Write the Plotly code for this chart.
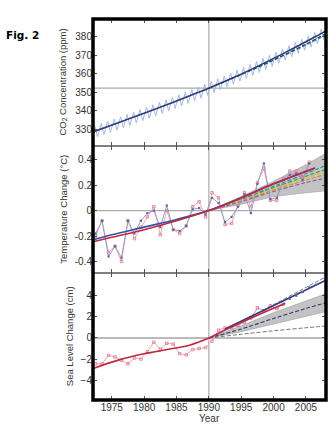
import plotly.graph_objects as go
from plotly.subplots import make_subplots

# ---------------- CO2 (ppm) ----------------
co2_years = list(range(1972, 2008))
co2_peak = [331.9, 333.1, 334.3, 335.5, 336.7, 338.0, 339.3, 340.6, 341.9, 343.2,
            344.5, 345.9, 347.2, 348.6, 350.0, 351.4, 352.8, 354.3, 355.8, 357.3,
            358.8, 360.3, 361.9, 363.5, 365.1, 366.7, 368.3, 370.0, 371.7, 373.4,
            375.1, 376.9, 378.7, 380.5, 382.3, 384.2]
co2_trough = [325.9, 327.1, 328.3, 329.5, 330.7, 332.0, 333.3, 334.6, 335.9, 337.2,
              338.5, 339.9, 341.2, 342.6, 344.0, 345.4, 346.8, 348.3, 349.8, 351.3,
              352.8, 354.3, 355.9, 357.5, 359.1, 360.7, 362.3, 364.0, 365.7, 367.4,
              369.1, 370.9, 372.7, 374.5, 376.3, 378.2]
co2_peak_month = 5
co2_trough_month = 10
co2_trend_years = [1972.1, 1976, 1980, 1984, 1988, 1990, 1994, 1998, 2002, 2006, 2008.1]
co2_trend = [328.5, 333.5, 338.6, 343.9, 349.4, 352.2, 358.2, 364.8, 371.8, 379.2, 383.2]
proj_years = [1990, 1995, 2000, 2005, 2008.1]
co2_proj_a = [352.2, 359.6, 367.5, 376.0, 381.8]
co2_proj_b = [352.2, 359.5, 367.2, 375.5, 381.0]

# ---------------- Temperature change (degC) ----------------
temp_years = list(range(1972, 2006))
temp_giss = [-0.18, -0.08, -0.36, -0.28, -0.37, -0.08, -0.18, -0.08, -0.02, 0.00,
             -0.13, 0.04, -0.15, -0.16, -0.12, 0.01, 0.02, -0.03, 0.10, 0.06,
             -0.09, -0.05, 0.03, 0.13, -0.02, 0.21, 0.37, 0.09, 0.10, 0.24,
             0.28, 0.29, 0.24, 0.37]
temp_hadley = [-0.20, -0.08, -0.33, -0.28, -0.40, -0.08, -0.22, -0.13, -0.05, 0.03,
               -0.19, 0.00, -0.15, -0.18, -0.12, 0.03, 0.07, -0.05, 0.14, 0.10,
               -0.11, -0.10, 0.04, 0.14, 0.03, 0.22, 0.33, 0.08, 0.08, 0.25,
               0.31, 0.31, 0.26, 0.38]
temp_trend_years = [1972.1, 1975, 1980, 1985, 1990, 1995, 2000, 2006.4]
temp_trend_giss = [-0.23, -0.19, -0.13, -0.07, 0.0, 0.10, 0.21, 0.335]
temp_trend_hadley = [-0.245, -0.21, -0.15, -0.08, 0.0, 0.10, 0.21, 0.335]
temp_band_upper = [0, 0.11, 0.23, 0.36, 0.45]
temp_band_lower = [0, 0.05, 0.11, 0.14, 0.155]
temp_scenarios = {
    "#2a8fb0": [0, 0.09, 0.19, 0.29, 0.355],
    "#3aa040": [0, 0.085, 0.18, 0.27, 0.325],
    "#d8c820": [0, 0.08, 0.17, 0.255, 0.305],
    "#e08a30": [0, 0.075, 0.16, 0.24, 0.285],
    "#8a5aa8": [0, 0.07, 0.15, 0.22, 0.255],
}

# ---------------- Sea level change (cm) ----------------
tide_years = list(range(1972, 1993))
tide_level = [-2.45, -2.45, -1.65, -1.8, -2.1, -2.45, -1.9, -2.0, -1.3, -0.4,
              -1.05, -0.5, -0.58, -1.5, -1.6, -1.1, -1.0, -0.9, -0.3, 0.75, 0.95]
sat_years = list(range(1993, 2002))
sat_level = [1.0, 1.2, 1.5, 1.9, 2.85, 2.6, 3.05, 2.8, 3.2]
sat_recent_years = [2002, 2003, 2004, 2005, 2006]
sat_recent_level = [3.7, 4.0, 4.35, 4.8, 5.05]
sea_trend_years = [1972.1, 1976, 1980, 1984, 1987, 1990, 1993, 1996, 1999, 2001.8]
sea_trend = [-2.9, -2.1, -1.5, -1.05, -0.68, 0.0, 0.9, 1.75, 2.55, 3.3]
sat_trend_years = [1992.5, 2008.0]
sat_trend = [0.85, 5.45]
sea_upper_line = [0, 1.55, 3.15, 4.8, 5.8]
sea_band_upper = [0, 1.15, 2.4, 3.55, 4.2]
sea_band_lower = [0, 0.6, 1.35, 2.05, 2.5]
sea_center = [0, 0.85, 1.85, 2.8, 3.35]
sea_low_line = [0, 0.35, 0.68, 0.97, 1.13]

fig = make_subplots(rows=3, cols=1, shared_xaxes=True, vertical_spacing=0)

fine_dash = "4px,2px"

# CO2 seasonal cycle: alternate peak / trough months
co2_x, co2_y = [], []
for yr, pk, tr in zip(co2_years, co2_peak, co2_trough):
    co2_x += [yr + (co2_peak_month - 0.5) / 12, yr + (co2_trough_month - 0.5) / 12]
    co2_y += [pk, tr]
fig.add_trace(go.Scatter(x=co2_x, y=co2_y, mode="lines",
                         line=dict(color="#a6b9de", width=1)), row=1, col=1)
fig.add_trace(go.Scatter(x=proj_years, y=co2_proj_b, mode="lines",
                         line=dict(color="#2f9a8a", width=1.1, dash=fine_dash, shape="spline")), row=1, col=1)
fig.add_trace(go.Scatter(x=proj_years, y=co2_proj_a, mode="lines",
                         line=dict(color="#333355", width=1.1, dash=fine_dash, shape="spline")), row=1, col=1)
fig.add_trace(go.Scatter(x=co2_trend_years, y=co2_trend, mode="lines",
                         line=dict(color="#2c3b7e", width=1.6, shape="spline")), row=1, col=1)

# Temperature projection band and scenarios
tx = [y + 0.5 for y in temp_years]
fig.add_trace(go.Scatter(x=proj_years + proj_years[::-1],
                         y=temp_band_upper + temp_band_lower[::-1], mode="lines",
                         fill="toself", fillcolor="rgba(175,175,175,0.75)",
                         line=dict(color="#999999", width=0.6)), row=2, col=1)
for col, vals in temp_scenarios.items():
    fig.add_trace(go.Scatter(x=proj_years, y=vals, mode="lines",
                             line=dict(color=col, width=1.1, dash=fine_dash, shape="spline")), row=2, col=1)
fig.add_trace(go.Scatter(x=tx, y=temp_hadley, mode="lines+markers",
                         line=dict(color="#eb9bb0", width=0.9),
                         marker=dict(symbol="square-open", size=2.5, color="#e07890",
                                     line=dict(width=0.8))), row=2, col=1)
fig.add_trace(go.Scatter(x=tx, y=temp_giss, mode="lines+markers",
                         line=dict(color="#8a98c0", width=0.9),
                         marker=dict(symbol="square", size=2.2, color="#5b6ca3")), row=2, col=1)
fig.add_trace(go.Scatter(x=temp_trend_years, y=temp_trend_giss, mode="lines",
                         line=dict(color="#3550a8", width=1.6, shape="spline")), row=2, col=1)
fig.add_trace(go.Scatter(x=temp_trend_years, y=temp_trend_hadley, mode="lines",
                         line=dict(color="#c0283e", width=1.6, shape="spline")), row=2, col=1)

# Sea level
fig.add_trace(go.Scatter(x=proj_years + proj_years[::-1],
                         y=sea_band_upper + sea_band_lower[::-1], mode="lines",
                         fill="toself", fillcolor="rgba(175,175,175,0.75)",
                         line=dict(color="#999999", width=0.6)), row=3, col=1)
fig.add_trace(go.Scatter(x=proj_years, y=sea_low_line, mode="lines",
                         line=dict(color="#777777", width=1.0, dash=fine_dash, shape="spline")), row=3, col=1)
fig.add_trace(go.Scatter(x=proj_years, y=sea_upper_line, mode="lines",
                         line=dict(color="#777777", width=1.0, dash=fine_dash, shape="spline")), row=3, col=1)
fig.add_trace(go.Scatter(x=proj_years, y=sea_center, mode="lines",
                         line=dict(color="#2c3b7e", width=1.1, dash=fine_dash, shape="spline")), row=3, col=1)
fig.add_trace(go.Scatter(x=[y + 0.5 for y in tide_years], y=tide_level, mode="lines+markers",
                         line=dict(color="#eb9bb0", width=0.9),
                         marker=dict(symbol="square-open", size=2.5, color="#e07890",
                                     line=dict(width=0.8))), row=3, col=1)
fig.add_trace(go.Scatter(x=[y + 0.5 for y in sat_years], y=sat_level, mode="lines+markers",
                         line=dict(color="#d98aa8", width=0.9),
                         marker=dict(symbol="square-open", size=2.5, color="#c8709a",
                                     line=dict(width=0.8))), row=3, col=1)
fig.add_trace(go.Scatter(x=sat_trend_years, y=sat_trend, mode="lines",
                         line=dict(color="#2c3b7e", width=1.6)), row=3, col=1)
fig.add_trace(go.Scatter(x=[y + 0.5 for y in sat_recent_years], y=sat_recent_level, mode="markers",
                         marker=dict(symbol="square", size=2.2, color="#5b6ca3")), row=3, col=1)
fig.add_trace(go.Scatter(x=sea_trend_years, y=sea_trend, mode="lines",
                         line=dict(color="#c0283e", width=1.6, shape="spline")), row=3, col=1)

tick_font = dict(family="Liberation Sans, Arial, sans-serif", size=10, color="#333333")
for r in (1, 2, 3):
    fig.update_xaxes(range=[1972.1, 2008.1], tickvals=[1975, 1980, 1985, 1990, 1995, 2000, 2005],
                     ticks="inside", ticklen=4, tickcolor="#555555", mirror="ticks",
                     showgrid=False, zeroline=False, showline=False,
                     showticklabels=(r == 3), tickfont=tick_font, row=r, col=1)
fig.update_yaxes(range=[320.9, 389.6], tickvals=[330, 340, 350, 360, 370, 380], row=1, col=1)
fig.update_yaxes(range=[-0.49, 0.507], tickvals=[-0.4, -0.2, 0, 0.2, 0.4],
                 ticktext=["-0.4", "-0.2", "0", "0.2", "0.4"], row=2, col=1)
fig.update_yaxes(range=[-5.88, 6.16], tickvals=[-4, -2, 0, 2, 4], row=3, col=1)
fig.update_yaxes(ticks="inside", ticklen=4, tickcolor="#555555", mirror="ticks",
                 showgrid=False, zeroline=False, showline=False, tickfont=tick_font)

# reference lines: 1990 vertical, baseline horizontals
shapes = [
    dict(type="line", xref="x", yref="paper", x0=1990, x1=1990, y0=0, y1=1,
         line=dict(color="#aaaaaa", width=1.2), layer="below"),
    dict(type="line", xref="paper", yref="y", x0=0, x1=1, y0=352.2, y1=352.2,
         line=dict(color="#aaaaaa", width=1.2), layer="below"),
    dict(type="line", xref="paper", yref="y2", x0=0, x1=1, y0=0, y1=0,
         line=dict(color="#aaaaaa", width=1.2), layer="below"),
    dict(type="line", xref="paper", yref="y3", x0=0, x1=1, y0=0, y1=0,
         line=dict(color="#bbbbbb", width=2), layer="below"),
    dict(type="line", xref="paper", yref="paper", x0=0, x1=1, y0=1/3, y1=1/3,
         line=dict(color="#555555", width=1.5)),
    dict(type="line", xref="paper", yref="paper", x0=0, x1=1, y0=2/3, y1=2/3,
         line=dict(color="#555555", width=1.5)),
    dict(type="rect", xref="paper", yref="paper", x0=0, x1=1, y0=0, y1=1,
         line=dict(color="#000000", width=3.5)),
]

title_font = dict(family="Liberation Sans Narrow, Arial Narrow, Liberation Sans, sans-serif",
                  size=9.5, color="#333333")
annotations = [
    dict(text="CO<sub>2</sub> Concentration (ppm)", xref="paper", yref="y domain",
         x=-0.133, y=0.5, xanchor="center", yanchor="middle", textangle=-90,
         showarrow=False, font=title_font),
    dict(text="Temperature Change (°C)", xref="paper", yref="y2 domain",
         x=-0.128, y=0.5, xanchor="center", yanchor="middle", textangle=-90,
         showarrow=False, font=title_font),
    dict(text="Sea Level Change (cm)", xref="paper", yref="y3 domain",
         x=-0.1, y=0.5, xanchor="center", yanchor="middle", textangle=-90,
         showarrow=False, font=title_font),
    dict(text="Year", xref="paper", yref="paper", x=0.5, y=-0.03, xanchor="center",
         yanchor="top", showarrow=False,
         font=dict(family="Liberation Sans, Arial, sans-serif", size=10, color="#333333")),
    dict(text="<b>Fig. 2</b>", xref="paper", yref="paper", x=-0.382, y=1.0 - (35 - 19) / 381,
         xanchor="left", yanchor="middle", showarrow=False,
         font=dict(family="DejaVu Sans, Verdana, sans-serif", size=10.5, color="#000000")),
]

fig.update_layout(width=336, height=425, margin=dict(l=93, r=10, t=19, b=25),
                  paper_bgcolor="white", plot_bgcolor="white", showlegend=False,
                  shapes=shapes, annotations=annotations)
fig.write_html("out.html")
